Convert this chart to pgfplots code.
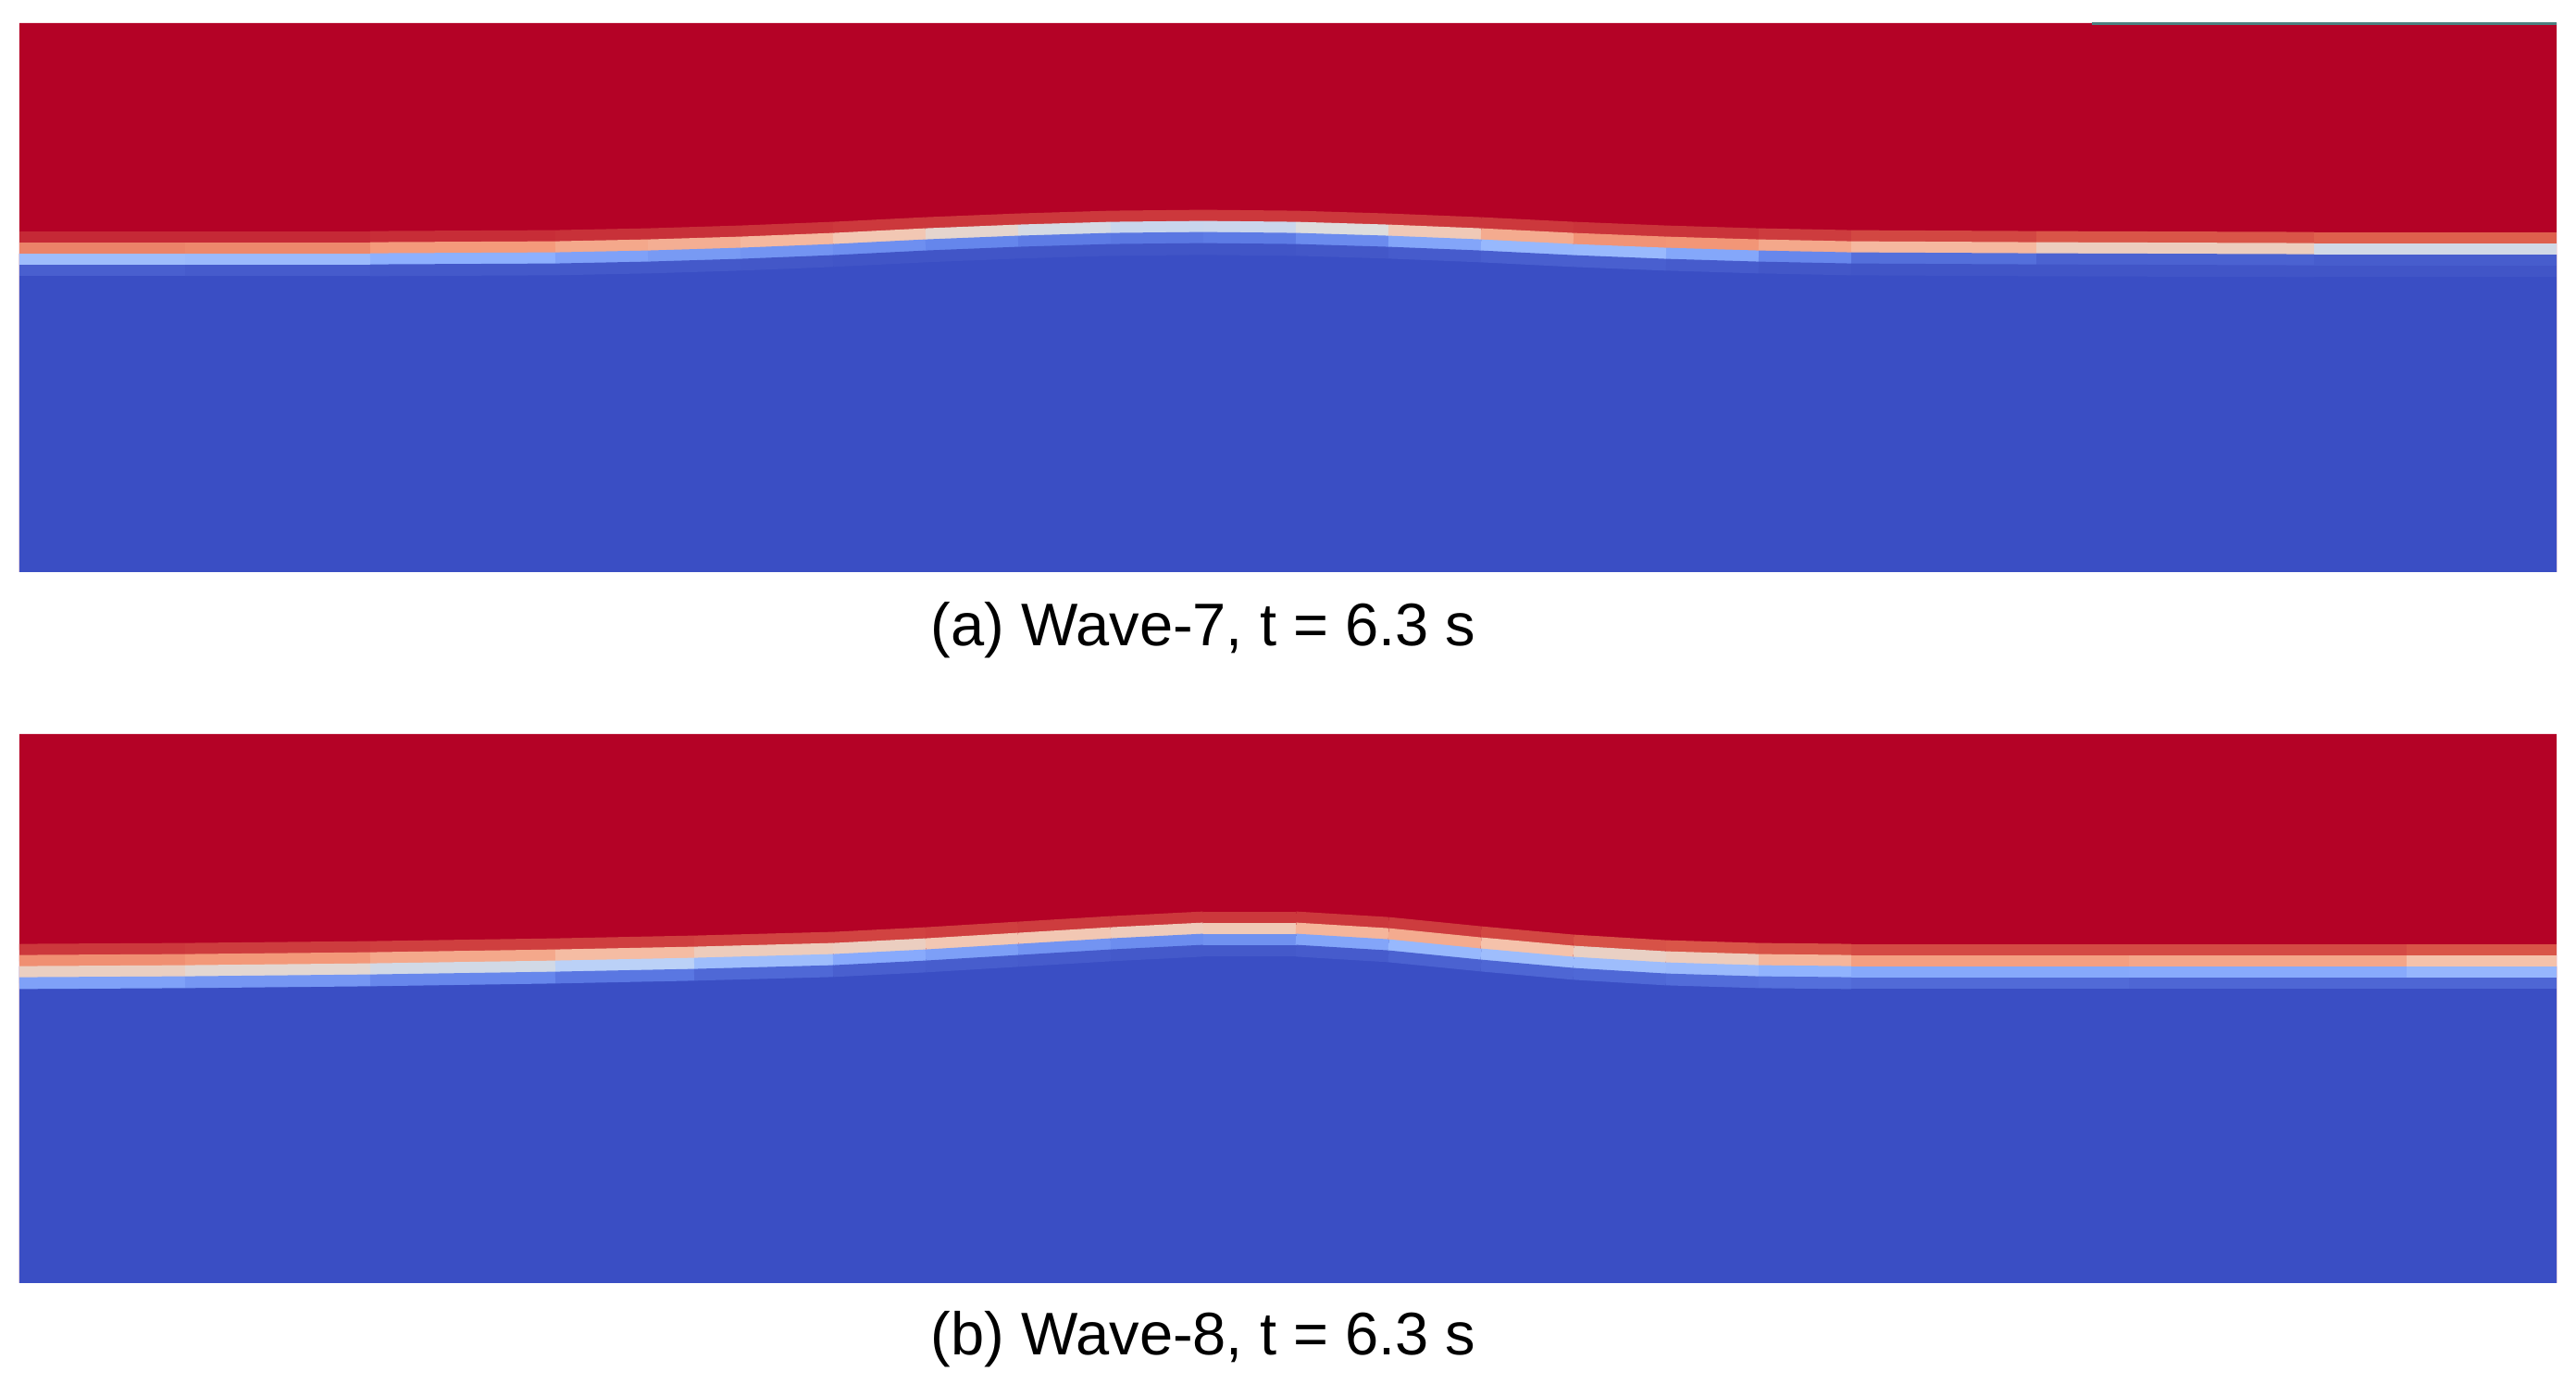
\documentclass[border=0pt]{standalone}
\usepackage{fontspec}
\setmainfont{Liberation Sans}
\usepackage{pgfplots}
\usepackage{pgfplotstable}
\pgfplotsset{compat=1.18}
\definecolor{cwred}{RGB}{180,2,38}
\definecolor{cwblue}{RGB}{58,78,196}
\pgfplotsset{colormap={coolwarm}{rgb255=(59,76,192) rgb255=(98,130,234) rgb255=(141,176,254) rgb255=(184,208,249) rgb255=(221,221,221) rgb255=(245,196,173) rgb255=(244,154,123) rgb255=(222,96,77) rgb255=(180,4,38)}}

\pgfplotstableread{
x    c    m1   m2   m3   m4
21   344  0.95 0.80 0.30 0.05
200  344  0.95 0.80 0.30 0.04
400  344  0.95 0.78 0.28 0.03
600  345  0.94 0.72 0.22 0.03
700  347  0.94 0.70 0.20 0.03
800  350  0.94 0.68 0.18 0.03
900  354  0.93 0.64 0.17 0.02
1000 359  0.93 0.58 0.15 0.02
1100 363  0.93 0.50 0.12 0.02
1200 366  0.93 0.44 0.10 0.02
1300 367  0.93 0.42 0.10 0.02
1400 366  0.93 0.45 0.12 0.02
1500 363  0.93 0.55 0.18 0.03
1600 359  0.93 0.65 0.26 0.04
1700 354  0.93 0.75 0.30 0.05
1800 350  0.94 0.78 0.27 0.04
1900 347  0.93 0.74 0.18 0.03
2000 345  0.92 0.68 0.10 0.02
2200 344  0.90 0.64 0.06 0.02
2500 343  0.88 0.52 0.04 0.02
2762 343  0.87 0.40 0.04 0.02
}\dataA

\pgfplotstableread{
x    c    m1   m2   m3   m4
21   342  0.93 0.78 0.58 0.22
200  343  0.93 0.77 0.56 0.20
400  345  0.92 0.74 0.50 0.16
600  348  0.92 0.68 0.42 0.12
750  351  0.92 0.62 0.35 0.08
900  355  0.91 0.55 0.25 0.05
1000 360  0.92 0.60 0.22 0.04
1100 366  0.92 0.62 0.19 0.04
1200 372  0.93 0.60 0.16 0.03
1300 377  0.93 0.58 0.15 0.03
1400 377  0.93 0.62 0.18 0.03
1500 371  0.93 0.72 0.26 0.04
1600 361  0.92 0.68 0.30 0.06
1700 352  0.90 0.58 0.30 0.06
1800 346  0.89 0.55 0.30 0.07
1900 343  0.89 0.62 0.28 0.08
2000 342  0.90 0.72 0.24 0.08
2300 342  0.91 0.75 0.22 0.06
2600 342  0.90 0.68 0.25 0.06
2762 342  0.88 0.58 0.30 0.06
}\dataB

\pgfplotsset{
  panel/.style={
    anchor=south west, scale only axis,
    width=548.2pt, height=118.6pt,
    xmin=21, xmax=2762, ymin=0, ymax=593,
    hide axis, colormap name=coolwarm,
    point meta min=0, point meta max=1,
  },
  band/.style={mesh, line width=2.55pt, line cap=butt, point meta=explicit, forget plot},
}

\begin{document}
\begin{tikzpicture}
\path[use as bounding box] (0,0) rectangle (556.6pt,299pt);

\begin{axis}[panel, at={(4.2pt,175.4pt)}]
\addplot[fill=cwred, draw=none] coordinates {(21,0) (2762,0) (2762,593) (21,593)} \closedcycle;
\addplot[fill=cwblue, draw=none] table[x=x, y=c] {\dataA} \closedcycle;
\addplot[band] table[x=x, y expr=\thisrow{c}+18, meta=m1] {\dataA};
\addplot[band] table[x=x, y expr=\thisrow{c}+6, meta=m2] {\dataA};
\addplot[band] table[x=x, y expr=\thisrow{c}-6, meta=m3] {\dataA};
\addplot[band] table[x=x, y expr=\thisrow{c}-18, meta=m4] {\dataA};
\addplot[draw=teal!40!gray, line width=0.6pt] coordinates {(2260,592) (2762,592)};
\end{axis}

\begin{axis}[panel, at={(4.2pt,21.8pt)}]
\addplot[fill=cwred, draw=none] coordinates {(21,0) (2762,0) (2762,593) (21,593)} \closedcycle;
\addplot[fill=cwblue, draw=none] table[x=x, y=c] {\dataB} \closedcycle;
\addplot[band] table[x=x, y expr=\thisrow{c}+18, meta=m1] {\dataB};
\addplot[band] table[x=x, y expr=\thisrow{c}+6, meta=m2] {\dataB};
\addplot[band] table[x=x, y expr=\thisrow{c}-6, meta=m3] {\dataB};
\addplot[band] table[x=x, y expr=\thisrow{c}-18, meta=m4] {\dataB};
\end{axis}

\node[anchor=base, inner sep=0pt, font=\fontsize{13pt}{15pt}\selectfont] at (260pt,159.4pt) {(a) Wave-7, t = 6.3 s};
\node[anchor=base, inner sep=0pt, font=\fontsize{13pt}{15pt}\selectfont] at (260pt,6.2pt) {(b) Wave-8, t = 6.3 s};
\end{tikzpicture}
\end{document}
